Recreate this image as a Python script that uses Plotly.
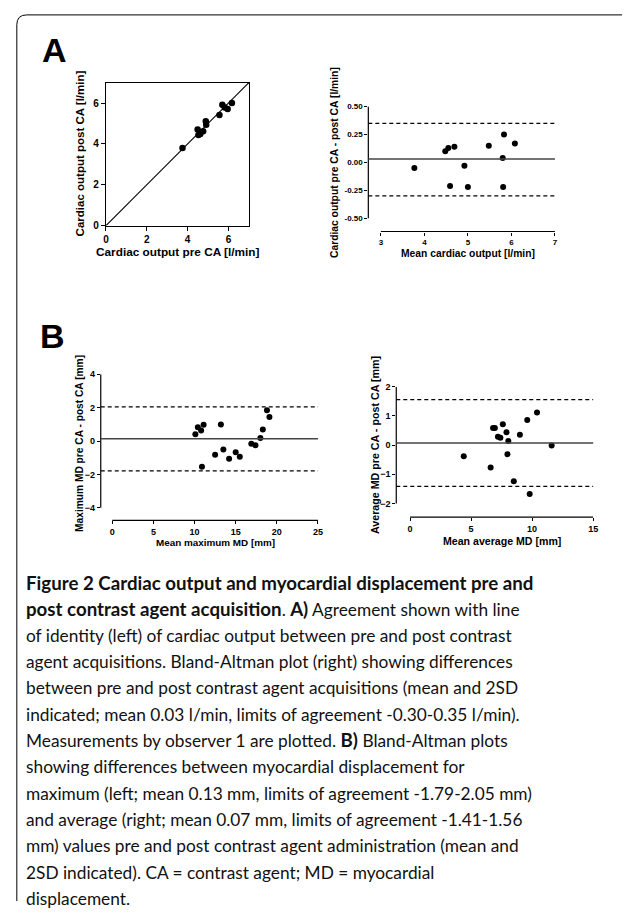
import plotly.graph_objects as go

W, H = 633, 916

def px(x):
    return x / W

def py(y):
    return 1 - y / H

# ---------------- DATA ----------------
# Panel A left: cardiac output pre vs post CA [l/min]
co_pre = [3.75, 4.53, 4.62, 4.76, 4.49, 4.91, 4.89, 5.56, 5.96, 5.82, 5.70, 6.17]
co_post = [3.80, 4.43, 4.49, 4.62, 4.70, 4.94, 5.11, 5.41, 5.71, 5.78, 5.92, 6.00]
# Panel A right: Bland-Altman cardiac output
co_mean = [3.77, 4.48, 4.55, 4.69, 4.59, 4.92, 5.00, 5.48, 5.83, 5.80, 5.81, 6.08]
co_diff = [-0.05, 0.10, 0.13, 0.14, -0.21, -0.03, -0.22, 0.15, 0.25, 0.04, -0.22, 0.17]
co_bias, co_lo, co_hi = 0.03, -0.30, 0.35

# Panel B left: maximum MD
max_mean = [10.1, 10.4, 10.8, 11.1, 10.9, 12.5, 13.2, 13.5, 14.2, 15.0, 15.5,
            16.9, 17.4, 18.0, 18.3, 18.8, 19.1]
max_diff = [0.40, 0.83, 0.63, 0.97, -1.54, -0.83, 0.99, -0.51, -1.07, -0.67, -0.95,
            -0.16, -0.26, 0.18, 0.69, 1.84, 1.44]
max_bias, max_lo, max_hi = 0.13, -1.79, 2.05

# Panel B right: average MD
avg_mean = [4.4, 6.6, 6.8, 6.95, 7.2, 7.4, 7.6, 7.9, 8.05, 7.98, 8.5, 9.0, 9.6,
            9.8, 10.4, 11.6]
avg_diff = [-0.38, -0.77, 0.59, 0.59, 0.29, 0.25, 0.72, 0.44, 0.14, -0.31, -1.24,
            0.36, 0.86, -1.67, 1.12, -0.01]
avg_bias, avg_lo, avg_hi = 0.07, -1.41, 1.56

# Tick values
a1_ticks = [0, 2, 4, 6]
a1_range = [0, 7]
a2_xticks = [3, 4, 5, 6, 7]
a2_yticks = [-0.50, -0.25, 0.00, 0.25, 0.50]
a2_ytext = ["-0.50", "-0.25", "0.00", "0.25", "0.50"]
b1_xticks = [0, 5, 10, 15, 20, 25]
b1_yticks = [-4, -2, 0, 2, 4]
b2_xticks = [0, 5, 10, 15]
b2_yticks = [-2, -1, 0, 1, 2]

B = '<span style="font-weight:bold;font-size:18.7px">'
E = '</span>'
caption_lines = [
    B + "Figure 2 Cardiac output and myocardial displacement pre and" + E,
    B + "post contrast agent acquisition" + E + ". " + B + "A)" + E + " Agreement shown with line",
    "of identity (left) of cardiac output between pre and post contrast",
    "agent acquisitions. Bland-Altman plot (right) showing differences",
    "between pre and post contrast agent acquisitions (mean and 2SD",
    "indicated; mean 0.03 l/min, limits of agreement -0.30-0.35 l/min).",
    "Measurements by observer 1 are plotted. " + B + "B)" + E + " Bland-Altman plots",
    "showing differences between myocardial displacement for",
    "maximum (left; mean 0.13 mm, limits of agreement -1.79-2.05 mm)",
    "and average (right; mean 0.07 mm, limits of agreement -1.41-1.56",
    "mm) values pre and post contrast agent administration (mean and",
    "2SD indicated). CA = contrast agent; MD = myocardial",
    "displacement.",
]

# ---------------- FIGURE ----------------
AX_FONT = "Arial, Liberation Sans, sans-serif"
fig = go.Figure()

# A left
fig.add_trace(go.Scatter(x=a1_range, y=a1_range, mode="lines",
                         line=dict(color="black", width=1.1), xaxis="x", yaxis="y",
                         showlegend=False, hoverinfo="skip"))
fig.add_trace(go.Scatter(x=co_pre, y=co_post, mode="markers", marker=dict(color="black", size=6.5),
                         xaxis="x", yaxis="y", showlegend=False))
# A right
fig.add_trace(go.Scatter(x=co_mean, y=co_diff, mode="markers", marker=dict(color="black", size=6),
                         xaxis="x2", yaxis="y2", showlegend=False))
# B left
fig.add_trace(go.Scatter(x=max_mean, y=max_diff, mode="markers", marker=dict(color="black", size=6),
                         xaxis="x3", yaxis="y3", showlegend=False))
# B right
fig.add_trace(go.Scatter(x=avg_mean, y=avg_diff, mode="markers", marker=dict(color="black", size=6),
                         xaxis="x4", yaxis="y4", showlegend=False))

def axis(domain, rng, tickvals, ticktext=None, anchor=None, size=8, showline=False, mirror=False, ticklen=3):
    d = dict(domain=domain, range=rng, tickvals=tickvals, ticks="outside", ticklen=ticklen,
             tickwidth=1.2, tickcolor="black", showgrid=False, zeroline=False,
             showline=showline, mirror=mirror, linecolor="black", linewidth=1.2,
             tickfont=dict(family=AX_FONT, size=size, color="black", weight="bold"),
             anchor=anchor, fixedrange=True)
    if ticktext is not None:
        d["ticktext"] = ticktext
    return d

layout = dict(
    width=W, height=H, margin=dict(l=0, r=0, t=0, b=0),
    paper_bgcolor="white", plot_bgcolor="white", showlegend=False,
    xaxis=axis([px(104.3), px(249)], a1_range, a1_ticks, anchor="y", size=10,
               showline=True, mirror=True, ticklen=4),
    yaxis=axis([py(223), py(78.5)], a1_range, a1_ticks, anchor="x", size=10,
               showline=True, mirror=True, ticklen=4),
    xaxis2=axis([px(370), px(559)], [2.712, 7], a2_xticks, anchor="y2", size=8),
    yaxis2=axis([py(229), py(102.7)], [-0.618, 0.5], a2_yticks, a2_ytext, anchor="x2", size=8),
    xaxis3=axis([px(99), px(319)], [-1.40, 25], b1_xticks, anchor="y3", size=9),
    yaxis3=axis([py(521), py(373.3)], [-4.75, 4], b1_yticks, anchor="x3", size=9),
    xaxis4=axis([px(398.3), px(597.7)], [-1.13, 15], b2_xticks, anchor="y4", size=9),
    yaxis4=axis([py(517.7), py(386)], [-2.464, 2], b2_yticks, anchor="x4", size=9),
)
fig.update_layout(**layout)

shapes = []
ann = []

# Bland-Altman panels: offset axis lines + bias / limit lines
ba = [
    ("x2", "y2", a2_xticks, a2_yticks, co_bias, co_lo, co_hi),
    ("x3", "y3", b1_xticks, b1_yticks, max_bias, max_lo, max_hi),
    ("x4", "y4", b2_xticks, b2_yticks, avg_bias, avg_lo, avg_hi),
]
for xa, ya, xt, yt, bias, lo, hi in ba:
    shapes.append(dict(type="line", xref=f"{xa} domain", yref=ya, x0=0, x1=0,
                       y0=min(yt), y1=max(yt), line=dict(color="black", width=1.2)))
    shapes.append(dict(type="line", xref=xa, yref=f"{ya} domain", x0=min(xt), x1=max(xt),
                       y0=0, y1=0, line=dict(color="black", width=1.2)))
    shapes.append(dict(type="line", xref=f"{xa} domain", yref=ya, x0=0, x1=1,
                       y0=bias, y1=bias, line=dict(color="#444444", width=1.5)))
    for v in (lo, hi):
        shapes.append(dict(type="line", xref=f"{xa} domain", yref=ya, x0=0, x1=1,
                           y0=v, y1=v, line=dict(color="black", width=1.2, dash="4px,3px")))

# Frame
r = 10
path = (f"M {px(14)},{py(906)} L {px(14)},{py(10 + r)} "
        f"Q {px(14)},{py(10)} {px(14 + r)},{py(10)} L {px(627)},{py(10)}")
shapes.append(dict(type="path", xref="paper", yref="paper", path=path,
                   line=dict(color="black", width=1)))

fig.update_layout(shapes=shapes)

def title(text, x, y, size, angle=0):
    ann.append(dict(text=text, x=px(x), y=py(y), xref="paper", yref="paper",
                    showarrow=False, textangle=angle, xanchor="center", yanchor="middle",
                    font=dict(family=AX_FONT, size=size, color="black", weight="bold")))

title("Cardiac output pre CA [l/min]", 176.7, 250, 11.8)
title("Cardiac output post CA [l/min]", 78, 150, 11.5, -90)
title("Mean cardiac output [l/min]", 471, 251.5, 10.3)
title("Cardiac output pre CA - post CA [l/min]", 335, 159, 10.3, -90)
title("Mean maximum MD [mm]", 215, 543, 9.9)
title("Maximum MD pre CA - post CA [mm]", 76.7, 443, 10.2, -90)
title("Mean average MD [mm]", 505, 541.7, 10.6)
title("Average MD pre CA - post CA [mm]", 376.7, 445, 10.7, -90)

# Panel letters
for letter, x, y in (("A", 37, 45), ("B", 35, 335)):
    ann.append(dict(text=letter, x=px(x), y=py(y), xref="paper", yref="paper",
                    showarrow=False, xanchor="left", yanchor="middle",
                    font=dict(family=AX_FONT, size=34, color="black", weight="bold")))

# Caption
y0 = 584
dy = 26.6
for i, line in enumerate(caption_lines):
    ann.append(dict(text=line, x=px(21), y=py(y0 + i * dy), xref="paper", yref="paper",
                    showarrow=False, xanchor="left", yanchor="middle", align="left",
                    font=dict(family="Lato, Open Sans, sans-serif", size=17.3, color="#111111")))

fig.update_layout(annotations=ann)

fig.write_html("out.html", config={"displayModeBar": False},
               post_script="document.body.style.margin='0';document.body.style.overflow='hidden';")
